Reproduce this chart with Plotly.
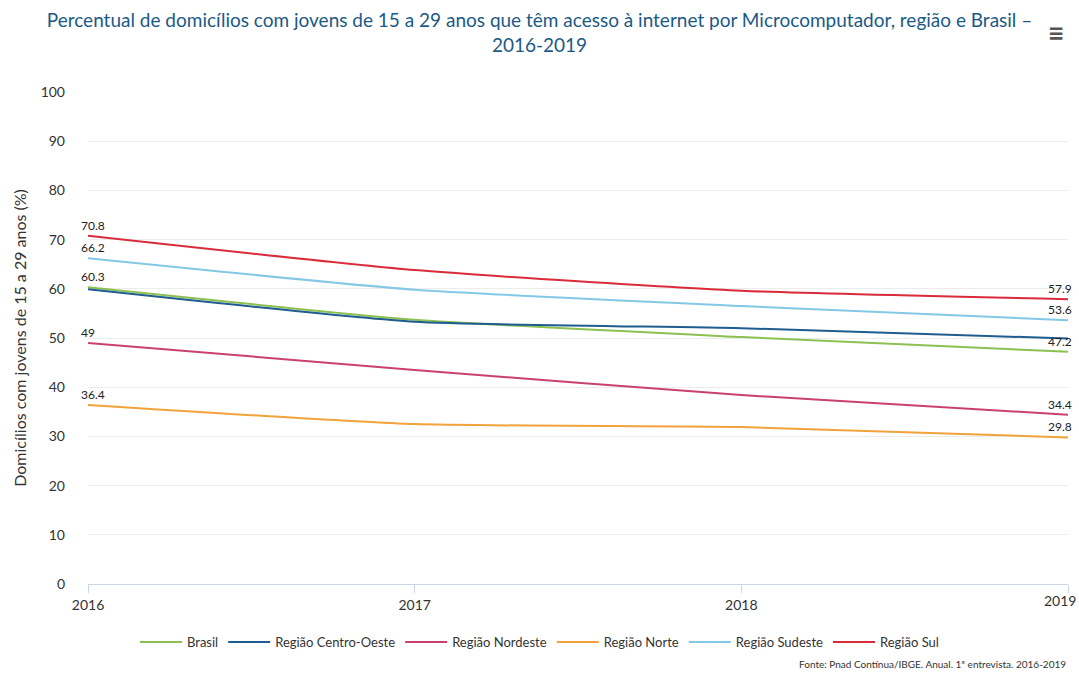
import plotly.graph_objects as go

years = [2016, 2017, 2018, 2019]
series_names = ["Brasil", "Região Centro-Oeste", "Região Nordeste", "Região Norte", "Região Sudeste", "Região Sul"]
brasil = [60.3, 53.7, 50.2, 47.2]
centro_oeste = [59.9, 53.3, 52.0, 49.9]
nordeste = [49.0, 43.5, 38.4, 34.4]
norte = [36.4, 32.5, 31.9, 29.8]
sudeste = [66.2, 59.8, 56.5, 53.6]
sul = [70.8, 63.8, 59.6, 57.9]
colors = ["#8cc152", "#1f5c8f", "#c9416e", "#f2a23a", "#84c8e6", "#d92b3a"]
y_ticks = [0, 10, 20, 30, 40, 50, 60, 70, 80, 90, 100]

all_series = [brasil, centro_oeste, nordeste, norte, sudeste, sul]
label_first = [True, False, True, True, True, True]
label_last = [True, False, True, True, True, True]

font = "Lato, 'Open Sans', sans-serif"
fig = go.Figure()
for name, vals, col in zip(series_names, all_series, colors):
    fig.add_trace(go.Scatter(x=years, y=vals, name=name, mode="lines",
                             line=dict(color=col, width=2, shape="spline", smoothing=0.5)))

def fmt(v):
    return ("%g" % v)

for vals, lf, ll in zip(all_series, label_first, label_last):
    if lf:
        fig.add_annotation(x=years[0], y=vals[0], text=fmt(vals[0]), showarrow=False,
                           xanchor="left", yanchor="bottom", xshift=-9, yshift=1,
                           font=dict(family=font, size=12, color="#222"))
    if ll:
        fig.add_annotation(x=years[-1], y=vals[-1], text=fmt(vals[-1]), showarrow=False,
                           xanchor="right", yanchor="bottom", xshift=6, yshift=1,
                           font=dict(family=font, size=12, color="#222"))

# last category tick label, shifted left to stay inside the page like the reference
fig.add_annotation(x=years[-1], xref="x", yref="paper", y=0, yanchor="top", yshift=-6,
                   xanchor="right", xshift=10, text=str(years[-1]), showarrow=False,
                   font=dict(family=font, size=14, color="#333"))

fig.add_annotation(xref="paper", yref="paper", x=1.0, y=-0.146, xanchor="right", yanchor="top",
                   text="Fonte: Pnad Contínua/IBGE. Anual. 1ª entrevista. 2016-2019", showarrow=False,
                   font=dict(family=font, size=10, color="#333"))
fig.add_annotation(xref="paper", yref="paper", x=0.998, y=1.122, xanchor="right", yanchor="middle",
                   text="<b>≡</b>", showarrow=False, font=dict(family=font, size=28, color="#555"))

fig.update_layout(
    width=1079, height=675,
    margin=dict(l=88, r=11, t=92, b=91, autoexpand=False),
    paper_bgcolor="white", plot_bgcolor="white",
    title=dict(text="Percentual de domicílios com jovens de 15 a 29 anos que têm acesso à internet por Microcomputador, região e Brasil –<br>2016-2019",
               x=0.5, xanchor="center", y=0.96, yanchor="top",
               font=dict(family=font, size=19, color="#1b5a85")),
    font=dict(family=font, color="#333"),
    legend=dict(orientation="h", x=0.4607, xanchor="center", y=-0.118, yanchor="middle",
                font=dict(family=font, size=13, color="#333"), itemwidth=42),
    showlegend=True,
)
fig.update_xaxes(range=[2016, 2019], tickvals=years, ticktext=[str(y) for y in years[:-1]] + [""],
                 showgrid=False, showline=True, linecolor="#ccd6eb", ticks="outside",
                 tickcolor="#ccd6eb", ticklen=8, tickfont=dict(size=14, color="#333"), zeroline=False)
fig.update_yaxes(range=[0, 100], tickvals=y_ticks, showgrid=True, gridcolor="#ececec",
                 zeroline=False, tickfont=dict(size=14, color="#333"), ticklabelstandoff=22,
                 title=dict(text="Domicílios com jovens de 15 a 29 anos (%)", font=dict(size=16, color="#333"), standoff=10))

fig.write_html("out.html")
